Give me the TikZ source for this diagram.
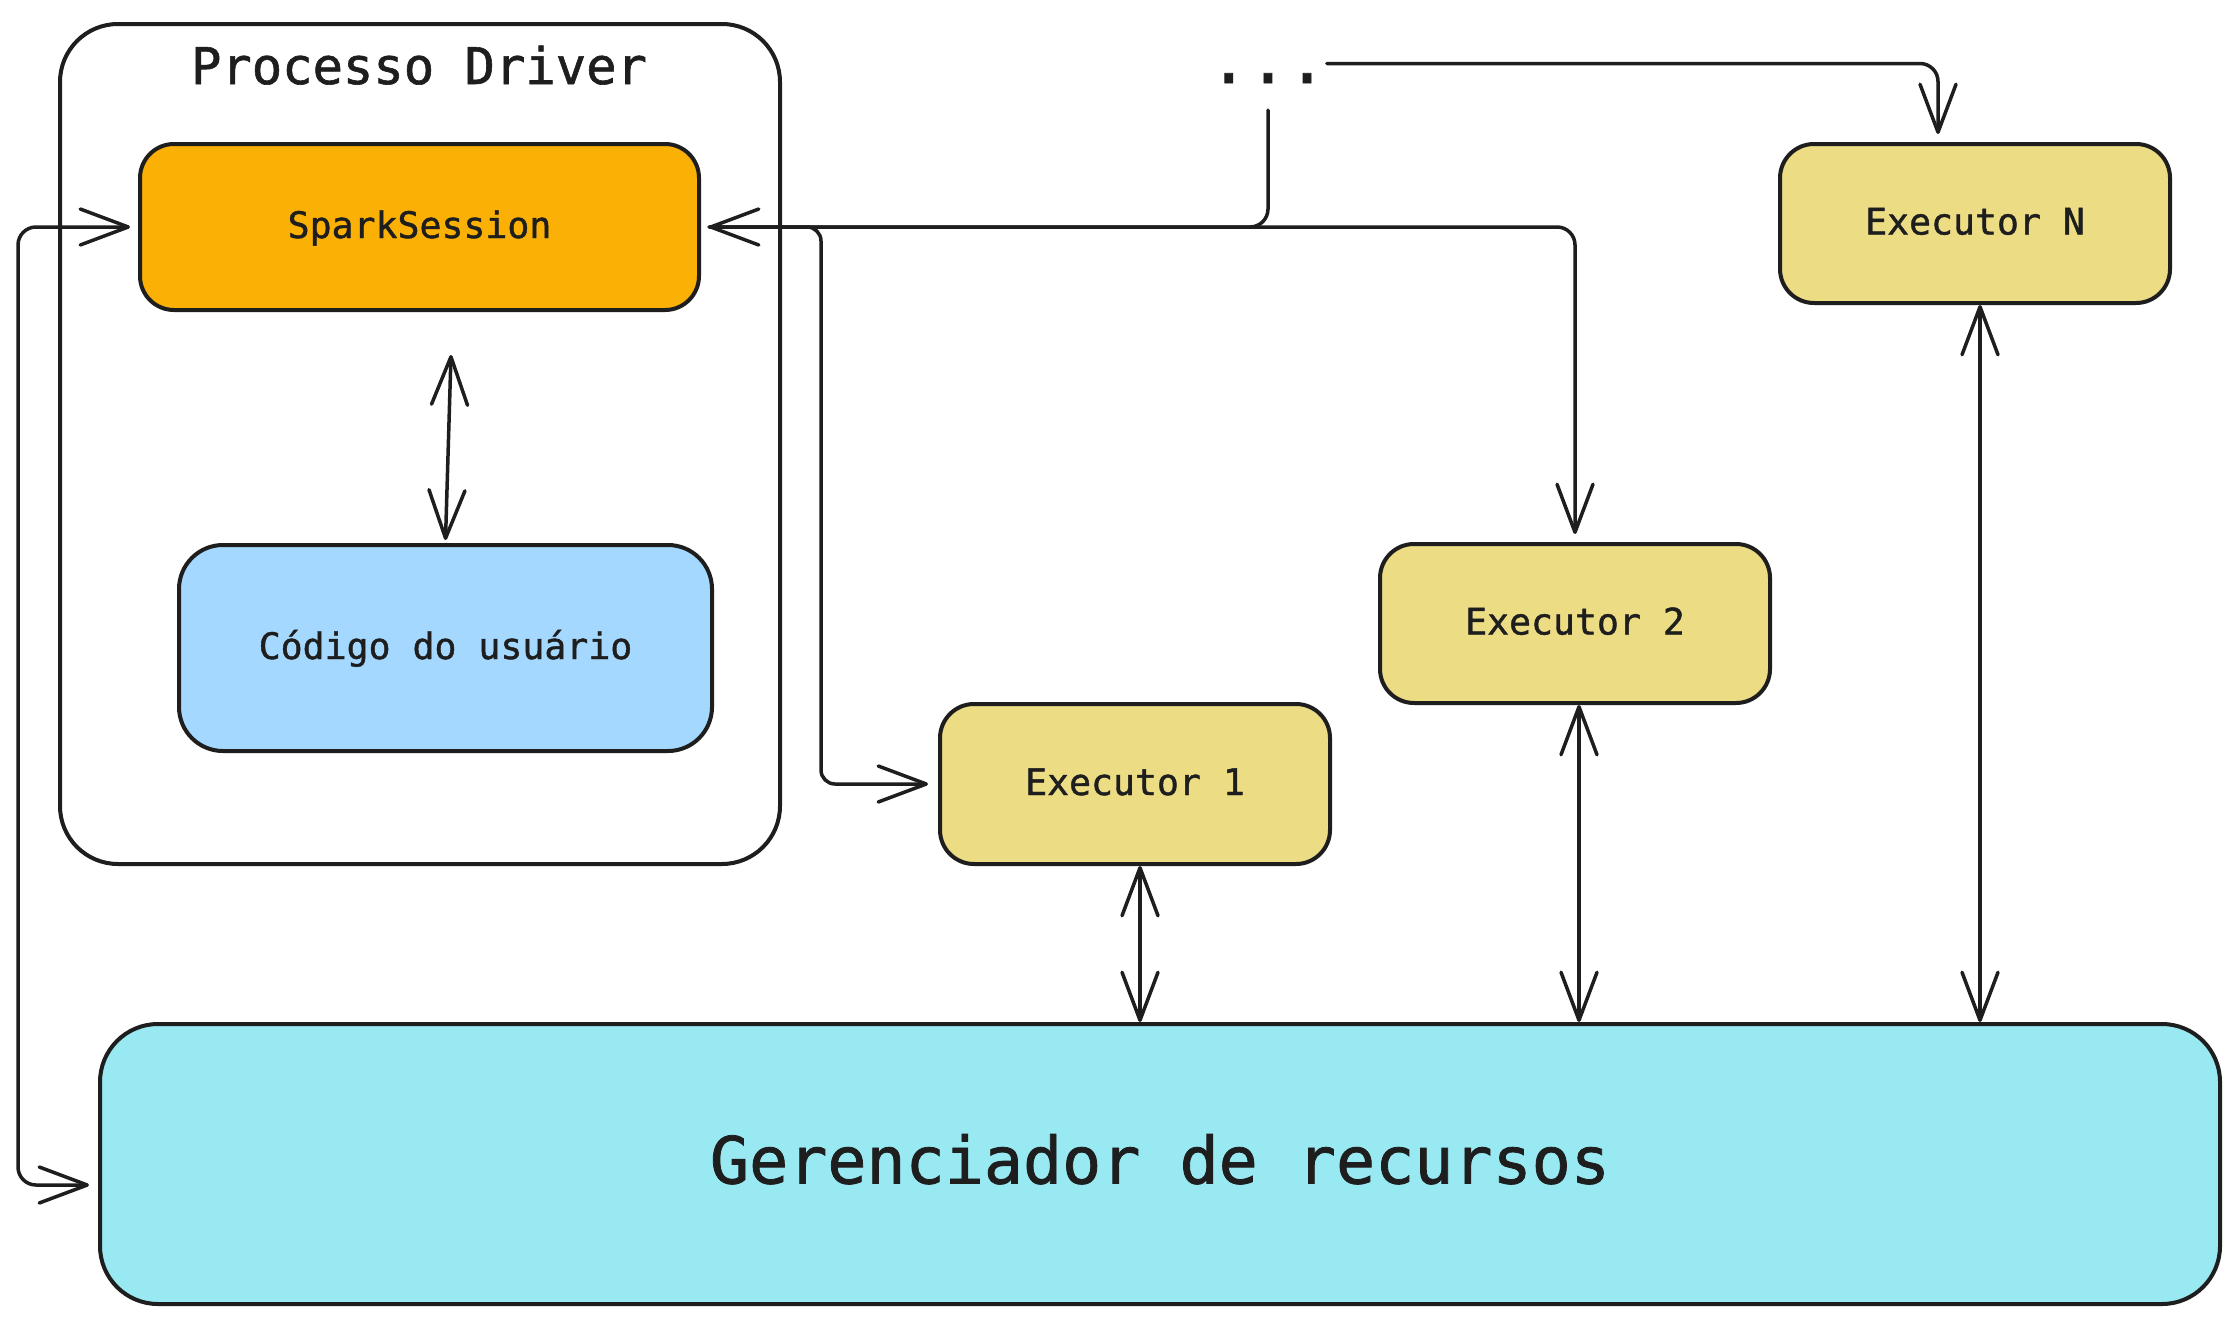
\documentclass[tikz,border=0pt]{standalone}
\usepackage{fontspec}
\newfontfamily\hand[FakeBold=1.2]{DejaVu Sans Mono}
\newcommand{\handb}{\hand\bfseries}
\usetikzlibrary{arrows.meta,calc}
\definecolor{ink}{HTML}{1E1E1E}
\definecolor{sparkfill}{HTML}{FAB005}
\definecolor{codefill}{HTML}{A5D8FF}
\definecolor{execfill}{HTML}{ECDC84}
\definecolor{gmfill}{HTML}{99E9F2}
\tikzset{
  box/.style={draw=ink, line width=4pt, inner sep=0pt, text=ink,
    font=\hand\fontsize{36.5}{44}\selectfont, text height=22pt, text depth=0pt},
  bigtext/.style={font=\hand\fontsize{65}{78}\selectfont, text height=39pt, text depth=0pt, text=ink, inner sep=0pt},
  conn/.style={draw=ink, line width=3.5pt, line cap=round, line join=round, rounded corners=18pt},
  >={Straight Barb[length=48pt,width=36pt,round]}
}
\begin{document}
\begin{tikzpicture}[x=1pt,y=-1pt]
\useasboundingbox[fill=white] (0,0) rectangle (2240,1325);

% containers and boxes
\node[box, rounded corners=58pt, minimum width=720pt, minimum height=840pt] (driver) at (420,444) {};
\node[anchor=base, text=ink, inner sep=0pt, font=\hand\fontsize{50.5}{60}\selectfont] (title) at (419,84) {Processo Driver};
\node[box, fill=sparkfill, rounded corners=34pt, minimum width=559pt, minimum height=166pt] (ss) at (419.5,227) {SparkSession};
\node[box, fill=codefill, rounded corners=44pt, minimum width=533pt, minimum height=206pt] (code) at (445.5,648) {Código do usuário};
\node[box, fill=execfill, rounded corners=34pt, minimum width=390pt, minimum height=160pt] (ex1) at (1135,784) {Executor 1};
\node[box, fill=execfill, rounded corners=34pt, minimum width=390pt, minimum height=159pt] (ex2) at (1575,623.5) {Executor 2};
\node[box, fill=execfill, rounded corners=34pt, minimum width=390pt, minimum height=159pt] (exN) at (1975,223.5) {Executor N};
\node[box, fill=gmfill, rounded corners=58pt, minimum width=2120pt, minimum height=280pt,
      font=\hand\fontsize{65}{78}\selectfont, text height=39pt] (gm) at (1160,1164) {Gerenciador de recursos};
\node[bigtext, anchor=base] (dots) at (1268,83) {...};

% connectors
\draw[conn,->] (dots.east) -| ($(exN.north west)+(160,-8)$);
\draw[conn,->] ($(dots.south)+(0,27)$) |- ($(ss.east)+(8,0)$);
\draw[conn,->] ($(ss.east)+(8,0)$) -| ($(ex2.north)+(0,-8)$);
\draw[conn,->,rounded corners=14pt] ($(ss.east)+(8,0)$) -- ($(ss.east)+(120,0)$) |- ($(ex1.west)+(-10,0)$);
\draw[conn,<->] ($(ss.west)+(-8,0)$) -| ($(gm.west)+(-80,21)$) -- ($(gm.west)+(-9,21)$);
\draw[conn,<->] ($(ss.south)+(31.5,43)$) -- ($(code.north)+(0,-3)$);

\coordinate (e1b) at ($(ex1.south)+(5,0)$);
\coordinate (e2b) at ($(ex2.south)+(4,0)$);
\coordinate (eNb) at ($(exN.south)+(5,0)$);
\draw[conn,<->] (e1b) -- (e1b |- gm.north);
\draw[conn,<->] (e2b) -- (e2b |- gm.north);
\draw[conn,<->] (eNb) -- (eNb |- gm.north);
\end{tikzpicture}
\end{document}
